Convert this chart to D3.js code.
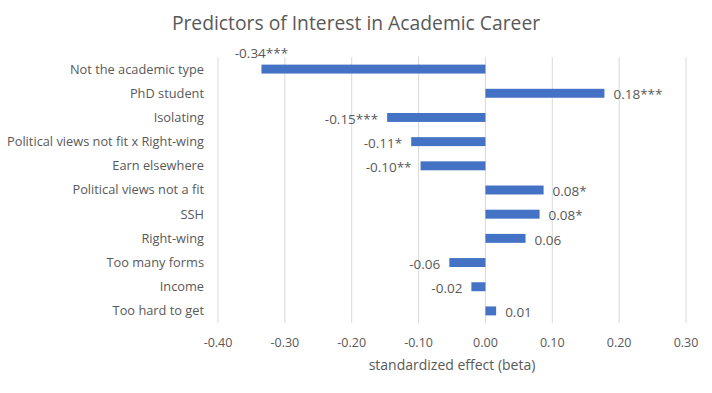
<!DOCTYPE html>
<html>
<head>
<meta charset="utf-8">
<script src="https://cdn.jsdelivr.net/npm/d3@7"></script>
<style>
  body { margin: 0; background: #fff; }
  text { font-family: "Open Sans", sans-serif; fill: #595959; }
</style>
</head>
<body>
<div id="chart"></div>
<script>
// chart data, top to bottom
const categories = [
  "Not the academic type", "PhD student", "Isolating",
  "Political views not fit x Right-wing", "Earn elsewhere",
  "Political views not a fit", "SSH", "Right-wing",
  "Too many forms", "Income", "Too hard to get"
];
const betas = [-0.335, 0.178, -0.147, -0.111, -0.097, 0.087, 0.081, 0.060, -0.054, -0.021, 0.016];
const labels = ["-0.34***", "0.18***", "-0.15***", "-0.11*", "-0.10**", "0.08*", "0.08*", "0.06", "-0.06", "-0.02", "0.01"];
const ticks = [-0.4, -0.3, -0.2, -0.1, 0, 0.1, 0.2, 0.3];

const width = 712, height = 393;
const margin = { top: 57, right: 26, bottom: 70, left: 218 };

const svg = d3.select("#chart").append("svg")
  .attr("width", width)
  .attr("height", height);

const x = d3.scaleLinear()
  .domain([-0.4, 0.3])
  .range([margin.left, width - margin.right]);

const y = d3.scaleBand()
  .domain(categories)
  .range([margin.top, height - margin.bottom])
  .paddingInner(0.63)
  .paddingOuter(0.315);

// gridlines
svg.append("g")
  .selectAll("line")
  .data(ticks)
  .join("line")
  .attr("x1", d => x(d)).attr("x2", d => x(d))
  .attr("y1", margin.top).attr("y2", height - margin.bottom)
  .attr("stroke", "#d9d9d9")
  .attr("stroke-width", 1);

// x tick labels (plain hyphen like the original)
svg.append("g")
  .selectAll("text")
  .data(ticks)
  .join("text")
  .attr("x", d => x(d))
  .attr("y", height - margin.bottom + 24)
  .attr("text-anchor", "middle")
  .attr("font-size", 12.5)
  .text(d => d.toFixed(2));

// bars
const rows = categories.map((c, i) => ({ cat: c, v: betas[i], lab: labels[i] }));

svg.append("g")
  .attr("fill", "#4472c4")
  .selectAll("rect")
  .data(rows)
  .join("rect")
  .attr("x", d => x(Math.min(0, d.v)))
  .attr("width", d => Math.abs(x(d.v) - x(0)))
  .attr("y", d => y(d.cat))
  .attr("height", y.bandwidth());

// category labels
svg.append("g")
  .selectAll("text")
  .data(categories)
  .join("text")
  .attr("x", margin.left - 14)
  .attr("y", d => y(d) + y.bandwidth() / 2)
  .attr("dy", "0.35em")
  .attr("text-anchor", "end")
  .attr("font-size", 12.8)
  .text(d => d);

// value labels; the first one would run into the axis labels so it sits above its bar
svg.append("g")
  .selectAll("text")
  .data(rows)
  .join("text")
  .attr("x", (d, i) => i === 0 ? x(d.v) : (d.v < 0 ? x(d.v) - 9 : x(d.v) + 9))
  .attr("y", (d, i) => i === 0 ? y(d.cat) - 11 : y(d.cat) + y.bandwidth() / 2 + 1.5)
  .attr("dy", "0.35em")
  .attr("text-anchor", (d, i) => i === 0 ? "middle" : (d.v < 0 ? "end" : "start"))
  .attr("font-size", 13.5)
  .attr("fill", "#404040")
  .text(d => d.lab);

// title
svg.append("text")
  .attr("x", 356)
  .attr("y", 30)
  .attr("text-anchor", "middle")
  .attr("font-size", 19.3)
  .text("Predictors of Interest in Academic Career");

// axis title
svg.append("text")
  .attr("x", (margin.left + width - margin.right) / 2)
  .attr("y", height - margin.bottom + 47)
  .attr("text-anchor", "middle")
  .attr("font-size", 14)
  .text("standardized effect (beta)");
</script>
</body>
</html>
